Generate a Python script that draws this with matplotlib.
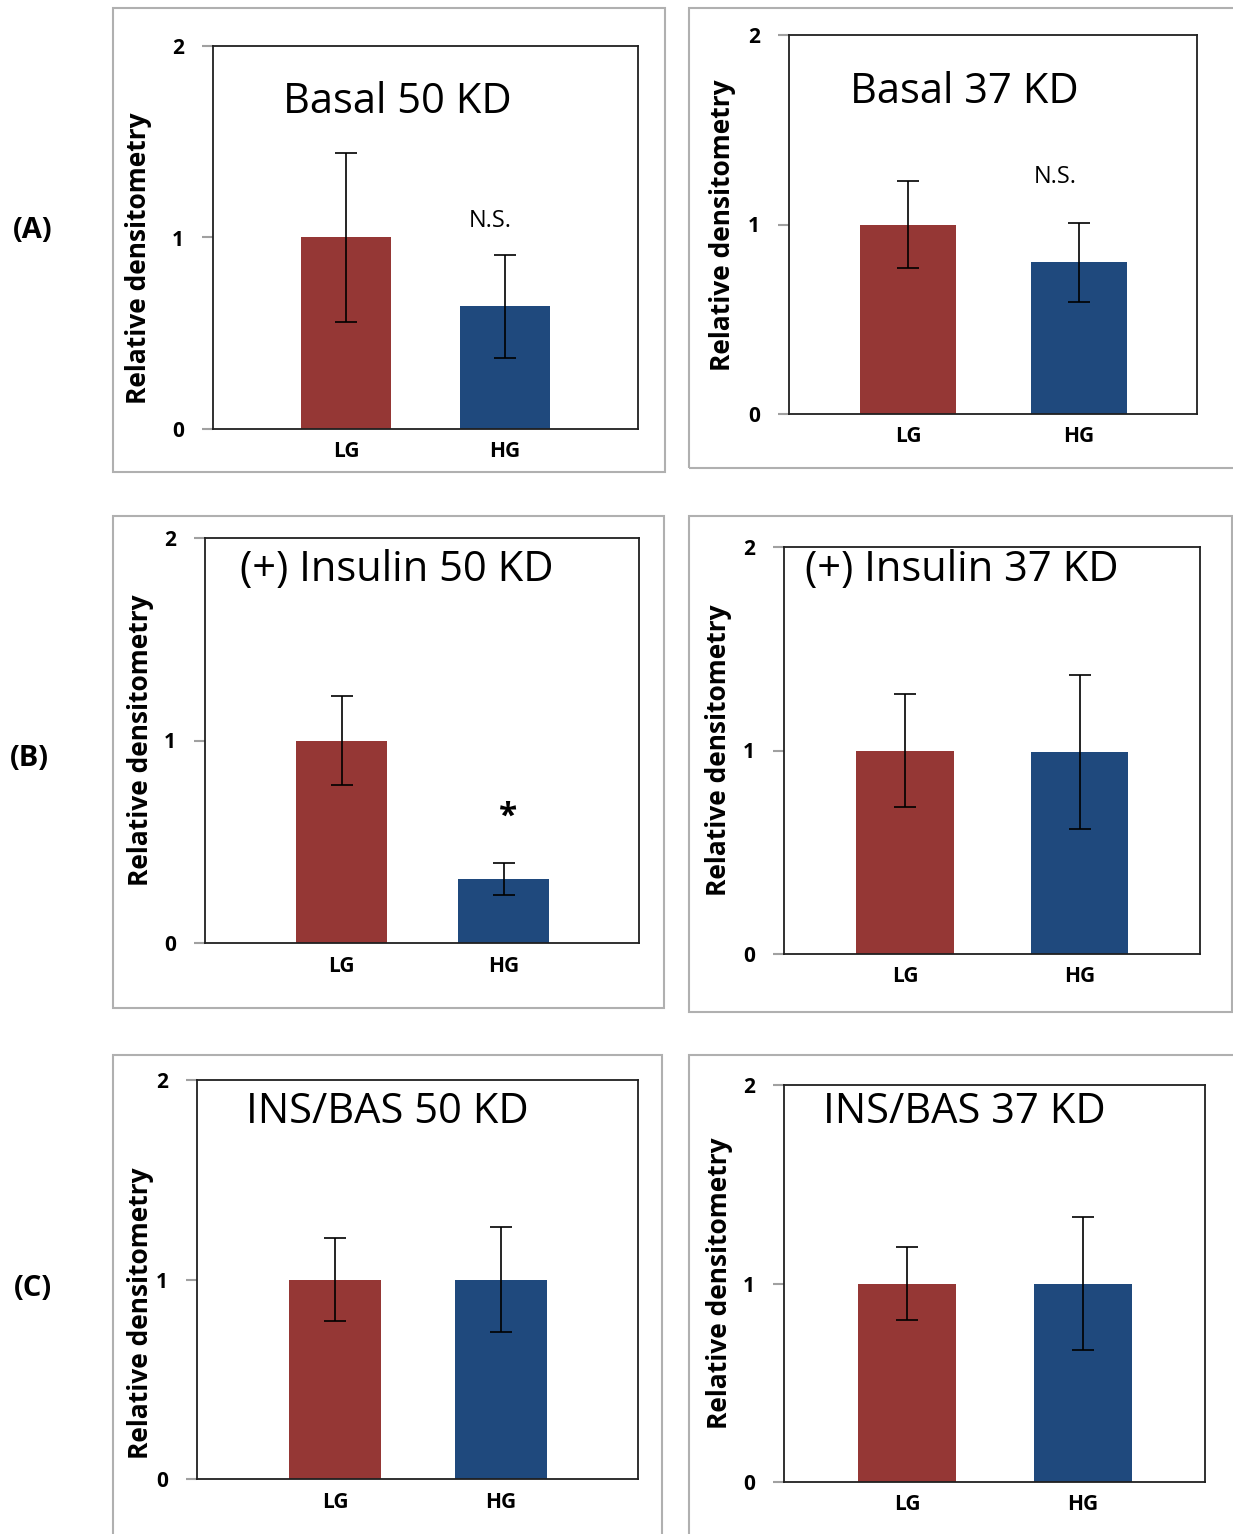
import matplotlib.pyplot as plt
from matplotlib.patches import Rectangle

plt.rcParams['font.family'] = ['Open Sans', 'DejaVu Sans']

W, H = 1233, 1534

categories = ["LG", "HG"]
titles = ["Basal 50 KD", "Basal 37 KD",
          "(+) Insulin 50 KD", "(+) Insulin 37 KD",
          "INS/BAS 50 KD", "INS/BAS 37 KD"]
means = [[1.0, 0.64], [1.0, 0.80],
         [1.0, 0.316], [1.0, 0.993],
         [1.0, 1.0], [1.0, 1.0]]
errors = [[0.44, 0.27], [0.23, 0.21],
          [0.22, 0.08], [0.28, 0.38],
          [0.21, 0.263], [0.185, 0.335]]
marks = ["N.S.", "N.S.", "*", "", "", ""]
mark_x = [0.91, 0.86, 1.03, 0, 0, 0]
mark_y = [1.086, 1.25, 0.62, 0, 0, 0]
row_labels = ["(A)", "(B)", "(C)"]

colors = ["#953735", "#1F497D"]

# pixel layout: axes box (left, top, right, bottom), frame box, bar centres
axes_px = [(213, 46, 638, 429), (789, 35, 1197, 414),
           (205, 538, 639, 943), (784, 547, 1200, 954),
           (197, 1080, 638, 1479), (784, 1085, 1205, 1482)]
frame_px = [(113, 8, 665, 472), (689, 8, 1245, 468),
            (113, 516, 664, 1008), (689, 516, 1232, 1012),
            (113, 1055, 662, 1545), (689, 1055, 1245, 1545)]
centres_px = [(346, 505), (908, 1079), (341.5, 503.5),
              (905, 1079.5), (335, 501), (907, 1083)]
title_pos = [(0.433, 1.71), (0.429, 1.70), (0.442, 1.84),
             (0.428, 1.887), (0.431, 1.84), (0.428, 1.864)]
ylabel_px = [(138, 258), (723, 225), (141, 740),
             (719, 750), (140, 1313), (720, 1283)]
row_px = [(33, 230), (29, 759), (33, 1288)]

fig = plt.figure(figsize=(W / 100, H / 100), dpi=100)

def fx(x):
    return x / W

def fy(y):
    return 1 - y / H

for i in range(6):
    # light gray frame round each panel
    l, t, r, b = frame_px[i]
    fig.patches.append(Rectangle((fx(l), fy(b)), fx(r) - fx(l), fy(t) - fy(b),
                                 transform=fig.transFigure, fill=False,
                                 edgecolor="#b0b0b0", linewidth=1.5))

    l, t, r, b = axes_px[i]
    ax = fig.add_axes([fx(l), fy(b), fx(r) - fx(l), fy(t) - fy(b)])
    c0, c1 = centres_px[i]
    step = c1 - c0
    x = [0, 1]
    ax.bar(x, means[i], width=0.56, color=colors, zorder=2)
    ax.errorbar(x, means[i], yerr=errors[i], fmt="none", ecolor="black",
                elinewidth=1.2, capsize=8, capthick=1.2, zorder=3)
    ax.set_xlim(-(c0 - l) / step, (r - c0) / step)
    ax.set_ylim(0, 2)
    ax.set_yticks([0, 1, 2])
    ax.set_xticks(x)
    ax.set_xticklabels(categories, fontsize=15, fontweight="bold")
    ax.tick_params(axis="x", length=0, pad=9)
    ax.tick_params(axis="y", length=8, width=1.5, color="#a0a0a0",
                   direction="out", pad=13, labelsize=15)
    for lab in ax.get_yticklabels():
        lab.set_fontweight("bold")
    for sp in ax.spines.values():
        sp.set_linewidth(1.3)
        sp.set_color("#202020")

    tx, ty = title_pos[i]
    ax.text(tx, ty, titles[i], transform=ax.get_yaxis_transform(),
            ha="center", va="center", fontsize=30)
    if marks[i] == "*":
        ax.text(mark_x[i], mark_y[i], "*", ha="center", va="center",
                fontsize=24, fontweight="bold")
    elif marks[i]:
        ax.text(mark_x[i], mark_y[i], marks[i], ha="center", va="center",
                fontsize=17)

    lx, ly = ylabel_px[i]
    fig.text(fx(lx), fy(ly), "Relative densitometry", rotation=90,
             ha="center", va="center", fontsize=19, fontweight="bold")

for lab, (px, py) in zip(row_labels, row_px):
    fig.text(fx(px), fy(py), lab, ha="center", va="center",
             fontsize=21, fontweight="bold")

fig.savefig("out.png", dpi=100)
